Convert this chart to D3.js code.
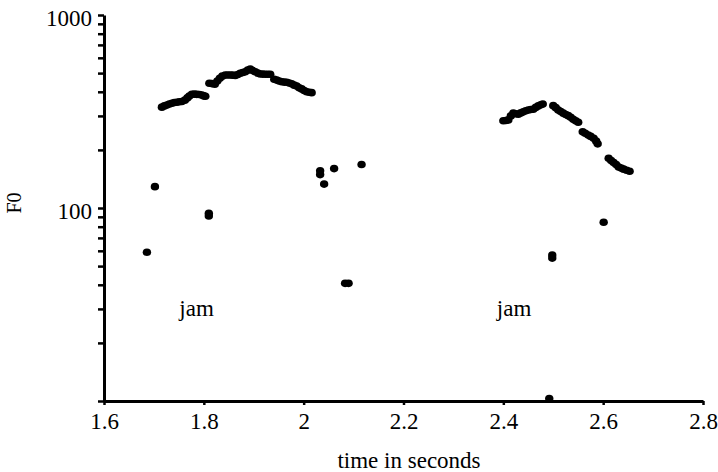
<!DOCTYPE html>
<html>
<head>
<meta charset="utf-8">
<script src="https://cdn.jsdelivr.net/npm/d3@7"></script>
<style>
  html, body { margin: 0; padding: 0; background: #fff; }
  svg { display: block; }
  svg text { font-family: "Liberation Serif", "DejaVu Serif", serif !important; fill: #000; }
</style>
</head>
<body>
<svg id="chart" width="718" height="472"></svg>
<script>
// ---- data ----
const contour1Time = [1.716,1.721,1.726,1.731,1.736,1.741,1.746,1.751,1.756,1.762,1.767,1.771,1.776,1.781,1.786,1.791,1.796,1.800,1.803,
  1.811,1.816,1.822,1.827,1.832,1.837,1.843,1.848,1.853,1.858,1.863,1.868,1.873,1.878,1.883,1.888,1.893,1.898,1.903,1.908,1.913,1.918,1.923,1.928,1.933,
  1.941,1.946,1.951,1.956,1.961,1.966,1.971,1.976,1.981,1.986,1.991,1.996,2.001,2.006,2.011,2.016];
const contour1F0 = [333,338,342,346,349,352,353,355,356,362,372,380,388,389,388,387,385,381,379,
  443,441,438,455,470,482,489,489,489,488,486,492,499,504,508,518,525,515,508,500,495,494,493,493,493,
  465,460,455,451,449,448,444,440,433,429,420,414,406,400,398,396];

const contour2Time = [2.400,2.405,2.410,2.415,2.420,2.425,2.430,2.435,2.440,2.445,2.450,2.455,2.460,2.465,2.470,2.475,2.479,
  2.500,2.505,2.510,2.515,2.520,2.525,2.530,2.535,2.540,2.545,2.550,
  2.559,2.564,2.570,2.575,2.581,2.586,2.589,
  2.611,2.616,2.621,2.626,2.631,2.636,2.641,2.647,2.653];
const contour2F0 = [283,284,286,300,310,308,306,311,315,319,322,324,325,332,338,343,346,
  339,331,322,316,310,305,301,295,288,283,278,
  248,244,239,235,230,222,215,
  181,176,172,168,163,161,159,157,155];

const strayTime = [1.686,1.702,1.810,1.810,2.033,2.033,2.041,2.061,2.116,2.083,2.090,2.498,2.498,2.601,2.492];
const strayF0   = [59,129,94,91,156,149,133,160,168,40.7,40.7,57,55,84.3,10.3];

const labelText = ["jam","jam"];
const labelTime = [1.751, 2.387];
const labelF0   = [27.7, 27.7];

const xTicks = [1.6,1.8,2.0,2.2,2.4,2.6,2.8];
const yLabelTicks = [100,1000];

// ---- chart ----
const svg = d3.select("#chart");
const x = d3.scaleLinear().domain([1.6, 2.8]).range([104, 703]);
const y = d3.scaleLog().domain([10, 1000]).range([401, 15]);

const points = [];
contour1Time.forEach((t,i)=>points.push([t, contour1F0[i]]));
contour2Time.forEach((t,i)=>points.push([t, contour2F0[i]]));
strayTime.forEach((t,i)=>points.push([t, strayF0[i]]));

svg.append("g").selectAll("ellipse").data(points).join("ellipse")
  .attr("cx", d => x(d[0]))
  .attr("cy", d => y(d[1]))
  .attr("rx", 4.2).attr("ry", 3.8)
  .attr("fill", "#000");

// y axis
const yAxis = d3.axisLeft(y)
  .tickValues(y.ticks())
  .tickFormat(d => yLabelTicks.includes(d) ? String(d) : "")
  .tickSize(6).tickSizeOuter(0).tickPadding(6);
const gy = svg.append("g").attr("transform", "translate(104,0)").call(yAxis)
  .attr("font-family", null);
gy.select(".domain").attr("stroke-width", 3).attr("stroke", "#000");
gy.selectAll(".tick line").attr("stroke-width", 2.5).attr("stroke", "#000");
gy.selectAll(".tick text").attr("font-size", 23).attr("dy", "0.45em");

// x axis
const xAxis = d3.axisBottom(x)
  .tickValues(xTicks)
  .tickFormat(d3.format("~g"))
  .tickSize(4).tickSizeOuter(0).tickPadding(8);
const gx = svg.append("g").attr("transform", "translate(0,401)").call(xAxis)
  .attr("font-family", null);
gx.select(".domain").attr("stroke-width", 3).attr("stroke", "#000");
gx.selectAll(".tick line").attr("stroke-width", 2.5).attr("stroke", "#000");
gx.selectAll(".tick text").attr("font-size", 23);

// axis titles
svg.append("text").attr("x", 409).attr("y", 468).attr("text-anchor", "middle")
  .attr("font-size", 23).text("time in seconds");
svg.append("text").attr("transform", "translate(20.5,203) rotate(-90)")
  .attr("text-anchor", "middle").attr("font-size", 20).text("F0");

// annotations
svg.append("g").selectAll("text").data(labelText).join("text")
  .attr("x", (d,i) => x(labelTime[i]))
  .attr("y", (d,i) => y(labelF0[i]))
  .attr("font-size", 23)
  .text(d => d);
</script>
</body>
</html>
